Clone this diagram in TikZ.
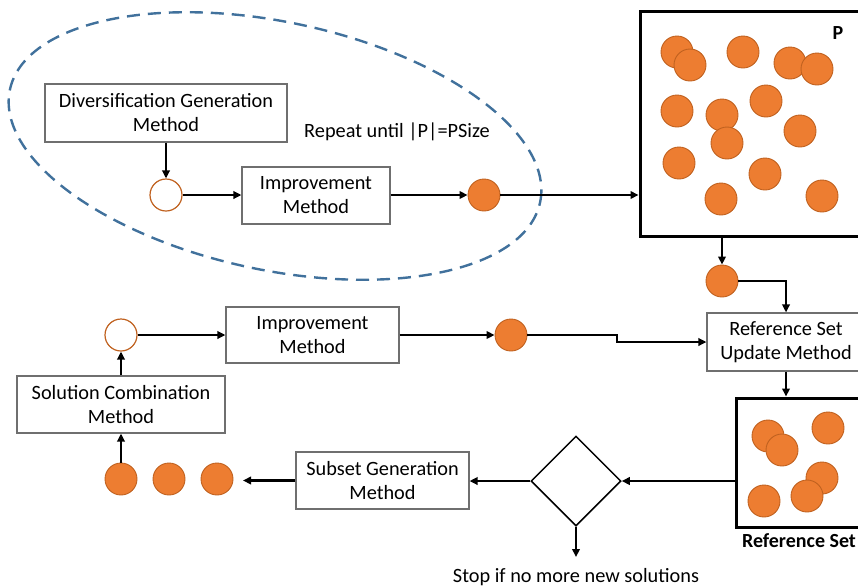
\documentclass[tikz,border=0pt]{standalone}
\usepackage{fontspec}
\setmainfont{Carlito}
\usetikzlibrary{arrows.meta,shapes.geometric}
\definecolor{orfill}{HTML}{ED7D31}
\definecolor{ordraw}{HTML}{C0611F}
\definecolor{dashblue}{HTML}{41719C}
\definecolor{boxgray}{HTML}{6F6F6F}
\tikzset{
  mbox/.style={draw=boxgray, line width=1.2pt, fill=white, inner sep=0pt, align=center,
    font=\fontsize{20.3}{24}\selectfont},
  sol/.style={circle, fill=orfill, draw=ordraw, line width=0.9pt, minimum size=32pt, inner sep=0pt},
  opensol/.style={circle, fill=white, draw=ordraw, line width=1.2pt, minimum size=32pt, inner sep=0pt},
  pool/.style={draw=black, line width=3pt, inner sep=0pt},
  conn/.style={line width=2.2pt, -{Triangle[length=8pt,width=7.5pt]}},
  plain/.style={font=\fontsize{20.3}{24}\selectfont},
}
\begin{document}
\begin{tikzpicture}[x=1pt,y=-1pt]
\useasboundingbox (0,0) rectangle (858,587);
% dashed loop
\node[ellipse, draw=dashblue, line width=2.4pt, dash pattern=on 13pt off 8pt,
  minimum width=542pt, minimum height=248pt, inner sep=0pt, rotate=-12] (loop) at (275,146) {};
\node[plain] (repeat) at (397,132) {Repeat until |P|=PSize};
% upper chain
\node[mbox, minimum width=242pt, minimum height=58pt] (dgm) at (166,113) {Diversification Generation\\Method};
\node[opensol] (o1) at (166,195) {};
\node[mbox, minimum width=148pt, minimum height=57pt] (imp1) at (316,195.5) {Improvement\\Method};
\node[sol] (f1) at (484,195) {};
% P pool
\node[pool, minimum width=230pt, minimum height=225pt] (pbox) at (755,123.5) {};
\node[font=\bfseries\fontsize{20}{24}\selectfont] (plabel) at (838,33) {P};
\foreach \i/\px/\py in {1/677/52, 2/690/65, 3/743/52, 4/790/63, 5/817/69, 6/677/111, 7/722/115,
  8/766/101, 9/727/143, 10/800/131, 11/679/163, 12/765/174, 13/721/199, 14/822/196}
  \node[sol] (p\i) at (\px,\py) {};
\node[sol] (pc) at (722,281) {};
% reference set update
\node[mbox, minimum width=158pt, minimum height=58pt] (rsum) at (786,342) {Reference Set\\Update Method};
\node[pool, fill=white, minimum width=134pt, minimum height=129pt] (rbox) at (803,462.5) {};
\foreach \i/\px/\py in {1/768/436, 2/782/450, 3/828/428, 4/822/478, 5/807/496, 6/764/501}
  \node[sol] (r\i) at (\px,\py) {};
\node[font=\bfseries\fontsize{20}{24}\selectfont] (rlabel) at (799,541) {Reference Set};
% middle chain
\node[opensol] (o2) at (121,335) {};
\node[mbox, minimum width=173pt, minimum height=56pt] (imp2) at (312.5,335) {Improvement\\Method};
\node[sol] (f2) at (511,335) {};
\coordinate (stepc) at (617,335);
% lower chain
\node[mbox, minimum width=208pt, minimum height=57pt] (scm) at (121,404.5) {Solution Combination\\Method};
\node[sol] (c1) at (121,479) {};
\node[sol] (c2) at (169,479) {};
\node[sol] (c3) at (217,479) {};
\coordinate (subend) at (243,480.5);
\node[mbox, minimum width=173pt, minimum height=57pt] (sub) at (382.5,480.5) {Subset Generation\\Method};
\node[diamond, draw=black, line width=1.5pt, minimum width=90pt, minimum height=90pt, inner sep=0pt] (dia) at (576,481) {};
\coordinate (stopend) at (576,557);
\node[plain] (stop) at (576,577) {Stop if no more new solutions};
% connectors
\draw[conn] (dgm.south -| o1) -- (o1.north);
\draw[conn] (o1.east) -- (imp1.west |- o1);
\draw[conn] (imp1.east |- f1) -- (f1.west);
\draw[conn] (f1.east) -- (pbox.west |- f1);
\draw[conn] (pbox.south -| pc) -- (pc.north);
\draw[conn] (pc.east) -| (rsum.north);
\draw[conn] (rsum.south) -- (rbox.north -| rsum.south);
\draw[conn] (rbox.west |- dia.east) -- (dia.east);
\draw[conn] (dia.west) -- (sub.east |- dia.west);
\draw[conn] (dia.south) -- (stopend);
\draw[conn] (sub.west) -- (subend);
\draw[conn] (c1.north) -- (scm.south);
\draw[conn] (scm.north) -- (o2.south);
\draw[conn] (o2.east) -- (imp2.west);
\draw[conn] (imp2.east) -- (f2.west);
\draw[conn] (f2.east) -- (stepc) |- (rsum.west);
\end{tikzpicture}
\end{document}
